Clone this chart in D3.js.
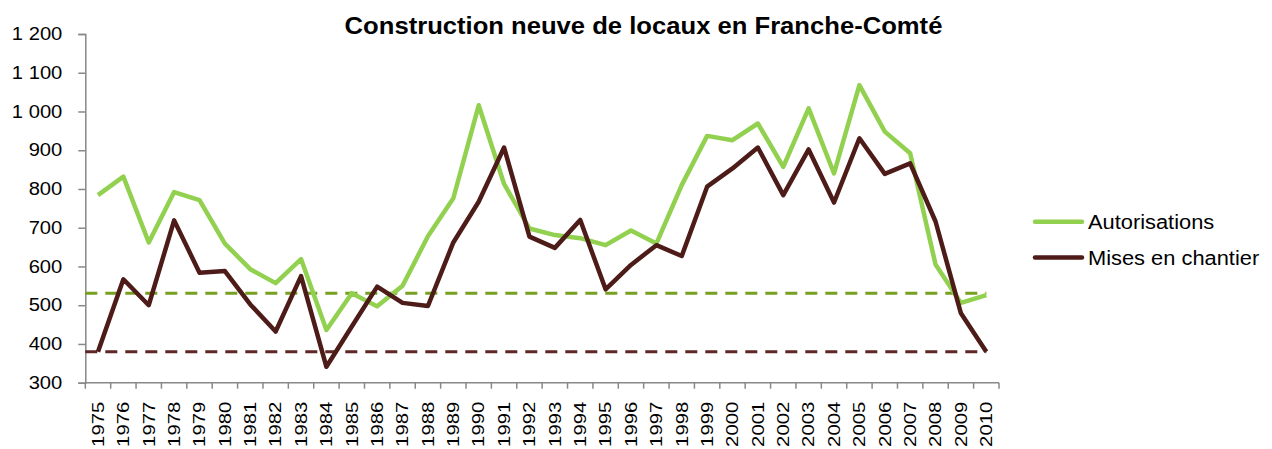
<!DOCTYPE html>
<html>
<head>
<meta charset="utf-8">
<script src="https://cdn.jsdelivr.net/npm/d3@7"></script>
<style>
body { margin:0; background:#fff; }
text { font-family: Arial, "Liberation Sans", sans-serif; }
</style>
</head>
<body>
<svg width="1272" height="449"></svg>
<script>
var years = d3.range(1975, 2011);
var autorisations = [784, 832, 662, 792, 771, 659, 593, 557, 619, 436, 531, 497, 550,
  678, 776, 1016, 813, 698, 681, 673, 655, 693, 659, 810, 937, 926, 969, 857, 1008,
  840, 1068, 948, 892, 605, 506, 526];
var chantier = [380, 567, 500, 719, 584, 588, 502, 432, 575, 341, 445, 548, 506,
  498, 662, 767, 907, 677, 648, 720, 541, 604, 655, 627, 806, 853, 907, 784, 902,
  765, 931, 839, 866, 716, 479, 380];
var refAutorisations = 531;
var refChantier = 380;
var yTicks = [300, 400, 500, 600, 700, 800, 900, 1000, 1100, 1200];
var seriesNames = ["Autorisations", "Mises en chantier"];

var green = "#92d050", brown = "#4d1b18";
var greenDash = "#77a020", brownDash = "#5e2624";
var axisColor = "#888888";

var svg = d3.select("svg");

var x = d3.scaleBand().domain(years).range([85.3, 999]);
var y = d3.scaleLinear().domain([300, 1200]).range([382.7, 34]);
var cx = function(d){ return x(d) + x.bandwidth()/2; };

var fr = d3.formatLocale({decimal:",", thousands:"\u00a0", grouping:[3], currency:["",""]});

// stretch helper: Excel text is a bit wider than Arial
function stretch(sel, k){
  sel.each(function(){
    this.setAttribute("textLength", this.getComputedTextLength()*k);
    this.setAttribute("lengthAdjust", "spacingAndGlyphs");
  });
}

// y axis
var yaxis = d3.axisLeft(y).tickValues(yTicks).tickSize(7).tickPadding(16)
  .tickFormat(fr.format(",d"));
var gy = svg.append("g")
  .attr("transform", "translate(85.3,0)")
  .call(yaxis);
gy.select(".domain").attr("stroke", axisColor).attr("stroke-width", 1.5);
gy.selectAll(".tick line").attr("stroke", axisColor).attr("stroke-width", 1.5);
gy.selectAll(".tick text").attr("font-size", 18).attr("fill", "#000")
  .attr("font-family", "Arial, 'Liberation Sans', sans-serif")
  .call(stretch, 1.12);

// x axis: ticks between categories
var gx = svg.append("g").attr("transform", "translate(0," + y(300) + ")");
gx.append("line").attr("x1", x.range()[0]).attr("x2", x.range()[1])
  .attr("stroke", axisColor).attr("stroke-width", 1.5);
gx.selectAll(".xt").data(years.concat(["end"])).enter().append("line")
  .attr("x1", function(d){ return d === "end" ? x.range()[1] : x(d); })
  .attr("x2", function(d){ return d === "end" ? x.range()[1] : x(d); })
  .attr("y1", 0).attr("y2", 6)
  .attr("stroke", axisColor).attr("stroke-width", 1.5);
gx.selectAll(".xl").data(years).enter().append("text")
  .attr("transform", function(d){ return "translate(" + cx(d) + ",19) rotate(-90)"; })
  .attr("text-anchor", "end")
  .attr("dy", "0.36em")
  .attr("font-size", 16)
  .text(function(d){ return d; })
  .call(stretch, 1.27);

// reference dashed lines
svg.append("line")
  .attr("x1", x.range()[0]).attr("x2", cx(2010))
  .attr("y1", y(refAutorisations)).attr("y2", y(refAutorisations))
  .attr("stroke", greenDash).attr("stroke-width", 3).attr("stroke-dasharray", "12,8");
svg.append("line")
  .attr("x1", x.range()[0]).attr("x2", cx(2010))
  .attr("y1", y(refChantier)).attr("y2", y(refChantier))
  .attr("stroke", brownDash).attr("stroke-width", 3).attr("stroke-dasharray", "12,8");

var line = d3.line()
  .x(function(d){ return cx(d[0]); })
  .y(function(d){ return y(d[1]); });

svg.append("path")
  .datum(d3.zip(years, autorisations))
  .attr("d", line).attr("fill", "none")
  .attr("stroke", green).attr("stroke-width", 4.5).attr("stroke-linejoin", "round");
svg.append("path")
  .datum(d3.zip(years, chantier))
  .attr("d", line).attr("fill", "none")
  .attr("stroke", brown).attr("stroke-width", 4.5).attr("stroke-linejoin", "round");

// title
svg.append("text")
  .attr("x", 643.5).attr("y", 34)
  .attr("text-anchor", "middle")
  .attr("font-size", 23.5).attr("font-weight", "bold")
  .text("Construction neuve de locaux en Franche-Comté")
  .call(stretch, 1.09);

// legend
var legend = svg.selectAll(".leg").data(seriesNames).enter().append("g")
  .attr("transform", function(d, i){ return "translate(1035," + (221.7 + i*35.8) + ")"; });
legend.append("line").attr("x1", 0).attr("x2", 47)
  .attr("stroke", function(d, i){ return i === 0 ? green : brown; })
  .attr("stroke-width", 4.5).attr("stroke-linecap", "round");
legend.append("text")
  .attr("x", 53).attr("y", 7.5)
  .attr("font-size", 19.5)
  .text(function(d){ return d; })
  .call(stretch, 1.12);
</script>
</body>
</html>
